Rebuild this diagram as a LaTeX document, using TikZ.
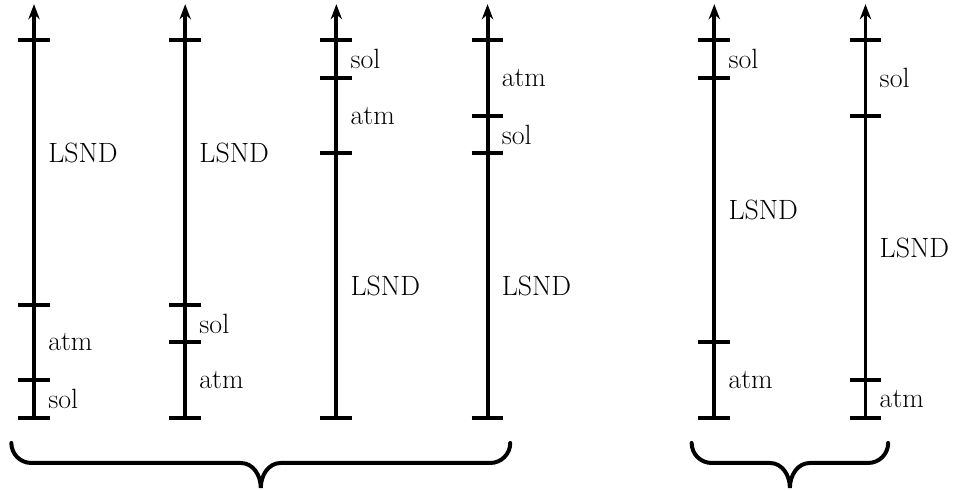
\documentclass[tikz,border=0pt]{standalone}
\usetikzlibrary{arrows.meta}

\tikzset{
    axisline/.style={line width=3pt, ->},
    tickmark/.style={line width=3pt},
    bracepath/.style={line width=3pt, line cap=round},
    lbl/.style={anchor=west, inner sep=0pt, font=\fontsize{21}{25}\selectfont},
}

\begin{document}
\begin{tikzpicture}
    [>={Stealth[length=0.4cm, width=0.3cm, inset=0.13cm]},  % arrow tip for the axes
    ]

\useasboundingbox (-0.9,-1.93) rectangle (24.58,11.06);

% axis A
\draw[axisline] (0,0) -- (0,10.95);
\draw[tickmark] (-0.42,0) -- (0.42,0);
\draw[tickmark] (-0.42,1) -- (0.42,1);
\draw[tickmark] (-0.42,3) -- (0.42,3);
\draw[tickmark] (-0.42,10) -- (0.42,10);
\node[lbl] (lsnd_a) at (0.37,7) {LSND};
\node[lbl] (atm_a) at (0.37,2) {atm};
\node[lbl] (sol_a) at (0.37,0.5) {sol};

% axis B
\draw[axisline] (4,0) -- (4,10.95);
\draw[tickmark] (3.58,0) -- (4.42,0);
\draw[tickmark] (3.58,2) -- (4.42,2);
\draw[tickmark] (3.58,3) -- (4.42,3);
\draw[tickmark] (3.58,10) -- (4.42,10);
\node[lbl] (lsnd_b) at (4.37,7) {LSND};
\node[lbl] (sol_b) at (4.37,2.5) {sol};
\node[lbl] (atm_b) at (4.37,1) {atm};

% axis C
\draw[axisline] (8,0) -- (8,10.95);
\draw[tickmark] (7.58,0) -- (8.42,0);
\draw[tickmark] (7.58,7) -- (8.42,7);
\draw[tickmark] (7.58,9) -- (8.42,9);
\draw[tickmark] (7.58,10) -- (8.42,10);
\node[lbl] (sol_c) at (8.37,9.5) {sol};
\node[lbl] (atm_c) at (8.37,8) {atm};
\node[lbl] (lsnd_c) at (8.37,3.5) {LSND};

% axis D
\draw[axisline] (12,0) -- (12,10.95);
\draw[tickmark] (11.58,0) -- (12.42,0);
\draw[tickmark] (11.58,7) -- (12.42,7);
\draw[tickmark] (11.58,8) -- (12.42,8);
\draw[tickmark] (11.58,10) -- (12.42,10);
\node[lbl] (atm_d) at (12.37,9) {atm};
\node[lbl] (sol_d) at (12.37,7.5) {sol};
\node[lbl] (lsnd_d) at (12.37,3.5) {LSND};

% axis E
\draw[axisline] (18,0) -- (18,10.95);
\draw[tickmark] (17.58,0) -- (18.42,0);
\draw[tickmark] (17.58,2) -- (18.42,2);
\draw[tickmark] (17.58,9) -- (18.42,9);
\draw[tickmark] (17.58,10) -- (18.42,10);
\node[lbl] (sol_e) at (18.37,9.5) {sol};
\node[lbl] (lsnd_e) at (18.37,5.5) {LSND};
\node[lbl] (atm_e) at (18.37,1) {atm};

% axis F
\draw[axisline] (22,0) -- (22,10.95);
\draw[tickmark] (21.58,0) -- (22.42,0);
\draw[tickmark] (21.58,1) -- (22.42,1);
\draw[tickmark] (21.58,8) -- (22.42,8);
\draw[tickmark] (21.58,10) -- (22.42,10);
\node[lbl] (sol_f) at (22.37,9) {sol};
\node[lbl] (lsnd_f) at (22.37,4.5) {LSND};
\node[lbl] (atm_f) at (22.37,0.5) {atm};

% braces
\draw[bracepath] (-0.6,-0.66) to[out=-90,in=180] (-0.07,-1.19) -- (5.47,-1.19)
    to[out=0,in=90] (6,-1.85) to[out=90,in=180] (6.53,-1.19) -- (12.07,-1.19)
    to[out=0,in=-90] (12.6,-0.66);
\draw[bracepath] (17.4,-0.66) to[out=-90,in=180] (17.93,-1.19) -- (19.47,-1.19)
    to[out=0,in=90] (20,-1.85) to[out=90,in=180] (20.53,-1.19) -- (22.07,-1.19)
    to[out=0,in=-90] (22.6,-0.66);

\end{tikzpicture}
\end{document}
